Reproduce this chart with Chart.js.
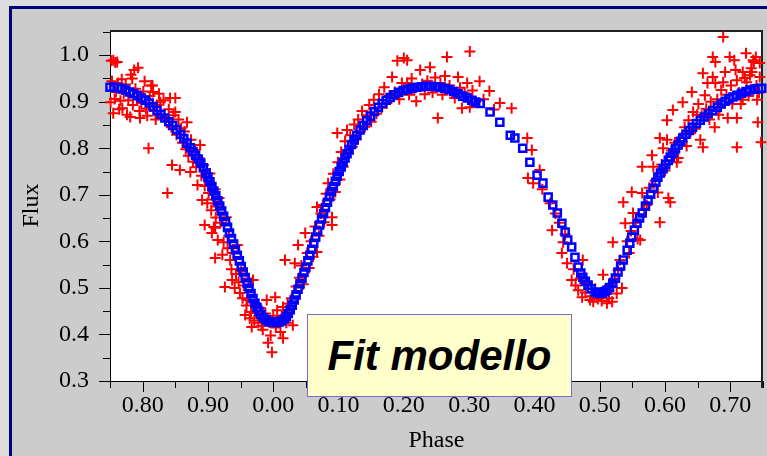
<!DOCTYPE html>
<html>
<head>
<meta charset="utf-8">
<script src="https://cdn.jsdelivr.net/npm/chart.js@4.4.1/dist/chart.umd.min.js"></script>
<style>
  html, body { margin: 0; padding: 0; overflow: hidden; background: #dcdcdc; }
  #panel {
    position: absolute; left: 9px; top: 6px; width: 800px; height: 500px;
    background: #cccccc; border-left: 3px solid #000080; border-top: 3px solid #000080;
  }
  #fig { position: absolute; left: 0; top: 0; }
  #note {
    position: absolute; left: 307px; top: 314px; width: 263px; height: 81px;
    background: #ffffcc; border: 1px solid #7a6cc4;
    display: flex; align-items: center; justify-content: center;
    font: italic bold 42px "Liberation Sans", Arial, sans-serif; color: #000;
  }
</style>
</head>
<body>
<div id="panel"></div>
<canvas id="fig" width="767" height="456"></canvas>
<div id="note">Fit modello</div>
<script>
// phase axis runs 0.75 -> 1.75, labels show the phase modulo 1
const phaseTicks  = [0.8, 0.9, 1.0, 1.1, 1.2, 1.3, 1.4, 1.5, 1.6, 1.7];
const phaseLabels = ["0.80", "0.90", "0.00", "0.10", "0.20", "0.30", "0.40", "0.50", "0.60", "0.70"];
const fluxTicks   = [0.3, 0.4, 0.5, 0.6, 0.7, 0.8, 0.9, 1.0];

// model light curve [phase, flux]
const model = [
  [0.750,0.931],[0.756,0.931],[0.762,0.930],[0.768,0.928],[0.774,0.925],[0.780,0.921],[0.786,0.917],
  [0.792,0.913],[0.798,0.908],[0.804,0.903],[0.810,0.897],[0.816,0.889],[0.822,0.881],[0.828,0.873],
  [0.834,0.865],[0.840,0.857],[0.846,0.849],[0.852,0.840],[0.858,0.830],[0.863,0.821],[0.868,0.811],
  [0.873,0.801],[0.877,0.793],[0.881,0.785],[0.885,0.777],[0.889,0.768],[0.893,0.758],[0.897,0.747],
  [0.900,0.738],[0.903,0.728],[0.906,0.718],[0.909,0.708],[0.912,0.698],[0.915,0.687],[0.918,0.676],
  [0.921,0.665],[0.924,0.654],[0.927,0.642],[0.930,0.630],[0.933,0.618],[0.936,0.606],[0.939,0.594],
  [0.942,0.582],[0.945,0.570],[0.948,0.558],[0.951,0.546],[0.954,0.534],[0.957,0.522],[0.960,0.510],
  [0.963,0.499],[0.966,0.488],[0.969,0.477],[0.972,0.467],[0.975,0.458],[0.978,0.450],[0.981,0.443],
  [0.985,0.436],[0.989,0.431],[0.993,0.428],[0.997,0.427],[1.001,0.426],[1.005,0.426],[1.009,0.427],
  [1.013,0.429],[1.017,0.433],[1.020,0.438],[1.023,0.445],[1.026,0.453],[1.029,0.463],[1.032,0.474],
  [1.035,0.485],[1.038,0.497],[1.041,0.509],[1.044,0.521],[1.047,0.533],[1.050,0.545],[1.053,0.558],
  [1.056,0.570],[1.059,0.583],[1.062,0.596],[1.065,0.609],[1.068,0.622],[1.071,0.635],[1.074,0.648],
  [1.077,0.660],[1.080,0.672],[1.083,0.684],[1.086,0.696],[1.089,0.707],[1.092,0.718],[1.095,0.729],
  [1.098,0.740],[1.101,0.750],[1.104,0.760],[1.107,0.770],[1.110,0.779],[1.113,0.788],[1.116,0.797],
  [1.120,0.808],[1.124,0.818],[1.128,0.828],[1.133,0.839],[1.138,0.849],[1.143,0.859],[1.149,0.869],
  [1.155,0.879],[1.161,0.888],[1.167,0.896],[1.173,0.903],[1.179,0.909],[1.185,0.915],[1.192,0.920],
  [1.199,0.924],[1.206,0.927],[1.213,0.929],[1.220,0.931],[1.227,0.932],[1.234,0.933],[1.241,0.933],
  [1.248,0.932],[1.255,0.931],[1.262,0.929],[1.269,0.926],[1.276,0.922],[1.283,0.917],[1.290,0.912],
  [1.297,0.908],[1.304,0.903],[1.310,0.899],[1.317,0.896],[1.332,0.878],[1.347,0.856],[1.363,0.828],
  [1.370,0.822],[1.382,0.800],[1.393,0.770],[1.404,0.742],[1.413,0.725],[1.421,0.695],[1.428,0.678],
  [1.435,0.661],[1.442,0.639],[1.447,0.620],[1.451,0.603],[1.457,0.588],[1.462,0.566],[1.467,0.545],
  [1.471,0.532],[1.474,0.523],[1.478,0.514],[1.482,0.506],[1.487,0.498],[1.493,0.491],[1.497,0.489],
  [1.500,0.488],[1.504,0.489],[1.508,0.492],[1.511,0.495],[1.515,0.501],[1.520,0.510],[1.524,0.521],
  [1.528,0.534],[1.532,0.547],[1.536,0.560],[1.542,0.581],[1.546,0.596],[1.549,0.609],[1.553,0.624],
  [1.557,0.639],[1.561,0.650],[1.565,0.661],[1.570,0.676],[1.574,0.689],[1.578,0.701],[1.582,0.714],
  [1.586,0.727],[1.589,0.738],[1.593,0.747],[1.597,0.756],[1.601,0.765],[1.605,0.774],[1.608,0.781],
  [1.612,0.790],[1.616,0.799],[1.620,0.807],[1.624,0.815],[1.627,0.822],[1.632,0.830],[1.637,0.838],
  [1.642,0.845],[1.648,0.853],[1.654,0.860],[1.660,0.867],[1.666,0.874],[1.673,0.881],[1.680,0.888],
  [1.686,0.895],[1.692,0.901],[1.698,0.906],[1.704,0.910],[1.710,0.914],[1.717,0.918],[1.724,0.922],
  [1.730,0.925],[1.737,0.927],[1.743,0.928],[1.748,0.929]
];

// observed photometry [phase, flux]
const observed = [
  [0.752,0.988],[0.755,0.989],[0.758,0.984],[0.761,0.985],[0.753,0.944],[0.751,0.899],[0.755,0.875],
  [0.757,0.906],[0.759,0.921],[0.762,0.940],[0.764,0.884],[0.766,0.902],[0.768,0.948],[0.769,0.886],
  [0.771,0.918],[0.774,0.937],[0.776,0.872],[0.778,0.903],[0.781,0.867],[0.782,0.958],[0.784,0.950],
  [0.785,0.893],[0.787,0.968],[0.789,0.928],[0.791,0.910],[0.793,0.973],[0.795,0.880],[0.796,0.865],
  [0.798,0.897],[0.801,0.922],[0.803,0.944],[0.805,0.885],[0.807,0.870],[0.809,0.800],[0.811,0.912],
  [0.813,0.935],[0.815,0.935],[0.816,0.921],[0.818,0.880],[0.820,0.862],[0.822,0.893],[0.825,0.917],
  [0.827,0.899],[0.829,0.869],
  [0.832,0.903],[0.835,0.861],[0.838,0.704],[0.840,0.884],[0.842,0.908],[0.844,0.845],[0.845,0.764],
  [0.847,0.871],[0.850,0.908],[0.850,0.878],[0.852,0.829],[0.855,0.862],[0.857,0.753],[0.859,0.843],
  [0.861,0.812],[0.864,0.836],[0.866,0.798],[0.868,0.856],[0.870,0.784],[0.873,0.749],[0.874,0.818],
  [0.877,0.771],[0.880,0.797],[0.882,0.759],[0.884,0.721],[0.886,0.779],[0.888,0.807],[0.890,0.741],
  [0.891,0.689],[0.893,0.764],[0.895,0.719],[0.895,0.635],[0.897,0.737],[0.899,0.682],[0.901,0.704],
  [0.903,0.746],[0.905,0.667],[0.906,0.618],[0.908,0.690],[0.909,0.631],[0.911,0.712],[0.911,0.629],
  [0.912,0.651],[0.914,0.675],[0.915,0.603],[0.917,0.693],[0.919,0.640],[0.922,0.571],[0.911,0.564],
  [0.924,0.598],[0.926,0.502],[0.928,0.652],[0.930,0.585],[0.932,0.612],[0.934,0.560],[0.936,0.540],
  [0.937,0.517],[0.939,0.575],[0.941,0.500],[0.943,0.530],[0.945,0.592],[0.947,0.512],[0.949,0.489],
  [0.951,0.535],[0.953,0.478],[0.955,0.505],[0.957,0.442],[0.959,0.462],[0.960,0.474],[0.962,0.520],
  [0.964,0.435],[0.966,0.448],[0.967,0.416],[0.969,0.517],[0.971,0.430],[0.973,0.446],[0.975,0.462],
  [0.977,0.425],[0.980,0.457],[0.982,0.418],[0.984,0.410],[0.986,0.433],[0.988,0.445],[0.990,0.474],
  [0.992,0.382],[0.994,0.425],[0.996,0.398],[0.998,0.362],[1.000,0.440],[1.003,0.480],[1.004,0.415],
  [1.006,0.452],[1.008,0.428],[1.011,0.405],[1.013,0.440],[1.015,0.459],[1.015,0.392],[1.018,0.560],
  [1.020,0.425],[1.022,0.466],[1.025,0.450],[1.028,0.478],[1.030,0.420],[1.033,0.553],[1.035,0.503],
  [1.038,0.592],[1.040,0.522],[1.043,0.548],[1.046,0.508],[1.049,0.618],[1.052,0.575],[1.055,0.543],
  [1.058,0.600],[1.061,0.567],[1.064,0.632],[1.067,0.577],[1.067,0.674],[1.070,0.612],[1.073,0.660],
  [1.076,0.678],[1.078,0.641],[1.081,0.702],
  [1.084,0.725],[1.087,0.690],[1.090,0.652],[1.090,0.635],[1.092,0.745],[1.095,0.706],[1.098,0.833],
  [1.099,0.770],[1.102,0.733],[1.104,0.792],[1.107,0.760],[1.110,0.815],[1.113,0.839],[1.115,0.788],
  [1.118,0.828],[1.121,0.803],[1.124,0.851],[1.127,0.819],[1.130,0.862],[1.133,0.836],[1.136,0.880],
  [1.140,0.846],[1.143,0.871],[1.147,0.893],[1.150,0.857],[1.154,0.904],[1.158,0.874],[1.162,0.916],
  [1.166,0.887],[1.170,0.931],[1.174,0.897],[1.178,0.913],[1.182,0.953],[1.186,0.921],[1.190,0.988],
  [1.193,0.905],[1.197,0.940],[1.200,0.994],[1.205,0.989],[1.205,0.940],[1.208,0.915],[1.212,0.950],
  [1.216,0.925],[1.219,0.901],[1.225,0.968],[1.228,0.938],[1.232,0.916],[1.236,0.945],[1.240,0.974],
  [1.244,0.920],[1.248,0.952],[1.252,0.865],
  [1.256,0.940],[1.259,0.915],[1.263,0.955],[1.266,0.996],[1.270,0.935],[1.274,0.921],[1.278,0.908],
  [1.283,0.953],[1.286,0.930],[1.289,0.886],[1.293,0.918],[1.297,0.940],[1.301,1.008],[1.301,0.888],
  [1.305,0.924],[1.310,0.900],[1.316,0.944],[1.322,0.905],[1.331,0.923],[1.338,0.883],[1.347,0.897],
  [1.365,0.886],
  [1.389,0.822],[1.396,0.796],[1.390,0.736],[1.408,0.753],[1.398,0.725],[1.412,0.712],[1.424,0.682],
  [1.427,0.624],[1.432,0.660],[1.438,0.640],[1.444,0.598],[1.442,0.575],[1.450,0.553],[1.447,0.615],
  [1.457,0.517],[1.460,0.540],[1.463,0.505],[1.467,0.495],[1.470,0.520],[1.473,0.480],[1.474,0.560],
  [1.478,0.490],[1.481,0.510],[1.485,0.474],[1.488,0.482],[1.490,0.470],[1.493,0.498],[1.497,0.476],
  [1.500,0.488],[1.503,0.472],[1.505,0.528],[1.508,0.495],[1.511,0.467],[1.514,0.478],[1.516,0.505],
  [1.519,0.470],[1.520,0.598],[1.523,0.520],[1.526,0.488],[1.528,0.538],[1.531,0.560],[1.534,0.500],
  [1.536,0.684],[1.539,0.639],[1.542,0.600],[1.545,0.575],[1.548,0.622],[1.549,0.706],[1.551,0.661],
  [1.555,0.640],[1.558,0.605],[1.562,0.603],
  [1.565,0.760],[1.565,0.704],[1.568,0.668],[1.572,0.678],[1.576,0.715],[1.580,0.785],[1.582,0.760],
  [1.585,0.730],[1.589,0.705],[1.592,0.822],[1.592,0.641],[1.595,0.765],[1.597,0.800],[1.600,0.752],
  [1.603,0.860],[1.603,0.818],[1.605,0.693],[1.608,0.684],[1.610,0.795],[1.612,0.882],[1.615,0.812],
  [1.618,0.770],[1.620,0.779],[1.623,0.822],[1.627,0.899],[1.630,0.845],[1.633,0.805],[1.636,0.860],
  [1.639,0.835],[1.641,0.921],[1.643,0.878],[1.646,0.842],[1.649,0.872],[1.651,0.895],[1.654,0.818],
  [1.656,0.870],[1.658,0.961],[1.658,0.802],[1.661,0.914],[1.663,0.885],[1.665,0.940],[1.668,0.862],
  [1.670,0.900],[1.673,0.996],[1.673,0.953],[1.676,0.845],[1.677,0.985],[1.677,0.940],[1.680,0.905],
  [1.682,0.872],[1.684,0.888],[1.686,0.925],[1.689,1.039],[1.689,0.942],[1.692,0.964],[1.694,0.915],
  [1.696,0.865],[1.699,0.996],[1.701,0.935],[1.703,0.895],[1.706,0.989],[1.708,0.968],[1.710,0.946],
  [1.710,0.865],[1.710,0.802],[1.713,0.920],[1.716,0.895],[1.719,0.964],[1.719,0.904],[1.722,0.951],
  [1.724,1.004],[1.725,0.942],[1.728,0.912],[1.730,0.957],[1.732,0.972],[1.733,0.964],[1.735,0.989],
  [1.736,0.985],[1.739,0.996],[1.740,0.935],[1.741,0.904],[1.742,0.856],[1.744,0.920],[1.745,0.953],
  [1.745,0.983],[1.747,0.813]
];

const serif = { family: '"Liberation Serif", "Times New Roman", serif', size: 24 };

// invisible tick marks reserve the gap between axis and labels; the real ticks are drawn below
const spacer = len => ({ display: true, drawOnChartArea: false, drawTicks: true, tickLength: len, tickColor: "rgba(0,0,0,0)" });

// white plot box, black frame, long/short ticks every 0.05
const frameTicks = {
  id: "frameTicks",
  beforeDatasetsDraw(chart) {
    const { ctx, chartArea: a, scales } = chart;
    ctx.save();
    ctx.fillStyle = "#fff";
    ctx.fillRect(a.left, a.top, a.right - a.left, a.bottom - a.top);
    ctx.strokeStyle = "#000";
    ctx.lineWidth = 1;
    ctx.beginPath();
    for (let i = 0; i <= 20; i++) {
      const px = Math.round(scales.x.getPixelForValue(0.75 + i * 0.05)) + 0.5;
      const len = i % 2 ? 11 : 7;
      ctx.moveTo(px, a.bottom);
      ctx.lineTo(px, a.bottom + len);
    }
    for (let i = 0; i <= 15; i++) {
      const py = Math.round(scales.y.getPixelForValue(0.3 + i * 0.05)) + 0.5;
      const len = i % 2 ? 7 : 11;
      ctx.moveTo(a.left, py);
      ctx.lineTo(a.left - len, py);
    }
    ctx.moveTo(a.left + 0.5, a.top);
    ctx.lineTo(a.left + 0.5, a.bottom + 0.5);
    ctx.lineTo(a.right, a.bottom + 0.5);
    ctx.stroke();
    ctx.strokeStyle = "#222";
    ctx.lineWidth = 2;
    ctx.beginPath();
    ctx.moveTo(a.left, a.top + 1);
    ctx.lineTo(a.right - 1, a.top + 1);
    ctx.lineTo(a.right - 1, a.bottom + 7);
    ctx.stroke();
    ctx.restore();
  }
};

new Chart(document.getElementById("fig"), {
  type: "scatter",
  data: {
    datasets: [
      {
        label: "Model",
        data: model.map(([x, y]) => ({ x, y })),
        pointStyle: "rect",
        pointRadius: 5,
        borderWidth: 2.5,
        borderColor: "#0000ff",
        backgroundColor: "rgba(0,0,0,0)",
        order: 0,
        clip: false
      },
      {
        label: "Observed",
        data: observed.map(([x, y]) => ({ x, y })),
        pointStyle: "cross",
        pointRadius: 5.5,
        borderWidth: 2,
        borderColor: "#ff0000",
        order: 1,
        clip: false
      }
    ]
  },
  options: {
    responsive: false,
    devicePixelRatio: 1,
    animation: false,
    events: [],
    layout: { autoPadding: false, padding: { top: 30, right: 4, left: 0, bottom: 0 } },
    plugins: { legend: { display: false }, tooltip: { enabled: false } },
    scales: {
      x: {
        type: "linear",
        min: 0.75,
        max: 1.75,
        afterBuildTicks: s => { s.ticks = phaseTicks.map(value => ({ value })); },
        afterFit: s => { s.height = 75; },
        ticks: {
          callback: (v, i) => phaseLabels[i],
          font: serif, color: "#000", padding: 0, maxRotation: 0, autoSkip: false
        },
        grid: spacer(10),
        border: { display: false },
        title: { display: true, text: "Phase", font: serif, color: "#000", padding: { top: 0, bottom: 1 } }
      },
      y: {
        min: 0.3,
        max: 1.054,
        afterBuildTicks: s => { s.ticks = fluxTicks.map(value => ({ value })); },
        afterFit: s => { s.width = 110; },
        ticks: {
          callback: v => v.toFixed(1),
          font: serif, color: "#000", padding: 0
        },
        grid: spacer(21),
        border: { display: false },
        title: { display: true, text: "Flux", font: serif, color: "#000", padding: { top: 17, bottom: 0 } }
      }
    }
  },
  plugins: [frameTicks]
});
</script>
</body>
</html>
